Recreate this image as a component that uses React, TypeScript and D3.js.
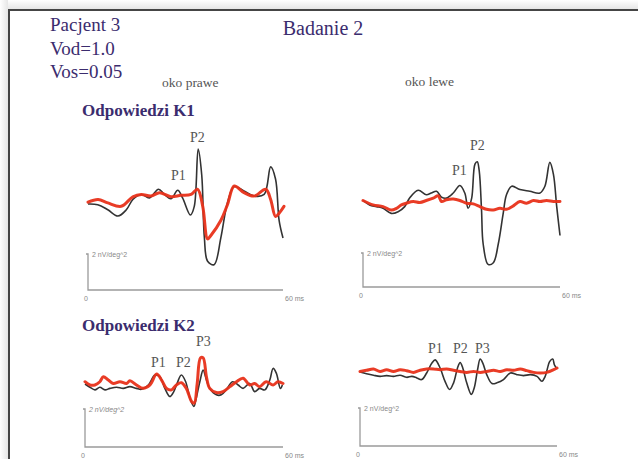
import React from "react";
import * as d3 from "d3";

// ---- data: [time ms, amplitude nV/deg^2] ----
const k1RightBlack: [number, number][] = [
  [0, 0], [3, -0.04], [6.1, -0.32], [9.2, -0.67], [11.8, -0.32], [13.8, 0.25], [16.4, 0.53], [18.9, 0.34],
  [21.7, 0.82], [23.5, 0.53], [25.5, 0.29], [27.6, 0.76], [29.1, 0.34], [31.5, -0.61], [32.7, -0.13],
  [33.9, 3.05], [35, 1.6], [35.8, -1.85], [36.8, -3.18], [38.8, -3.37], [40.9, -1.85], [42.9, 0.06],
  [45, 0.97], [48, 0.72], [51.1, 0.44], [54.2, 0.53], [56.2, 2.06], [57.7, 1.39], [58.8, -0.91], [60, -1.89],
];
const k1RightRed: [number, number][] = [
  [0, 0.1], [3.1, 0.25], [6.1, 0.06], [10.2, -0.13], [13.8, 0.4], [16.4, 0.53], [19.4, 0.44], [22, 0.63],
  [25.5, 0.4], [28.6, 0.48], [31.7, 0.53], [33.7, 0.82], [35.3, -0.13], [36.8, -1.94], [37.8, -1.75],
  [40.9, -0.9], [42.9, -0.04], [45, 1.0], [48, 0.63], [51.1, 0.44], [54.7, 0.82], [56.2, 0.25],
  [57.7, -0.7], [58.8, -0.51], [60.3, -0.13],
];
const k1LeftBlack: [number, number][] = [
  [0, 0.06], [2, -0.2], [4.1, -0.3], [6.1, -0.4], [8.6, -0.7], [10.7, -0.6], [12.7, -0.3], [14.2, 0.2],
  [16.8, 0.66], [19.3, 0.4], [20.8, 0.5], [22.4, 0.6], [23.9, 0.26], [25.4, 0.2], [27.5, 0.5], [29.5, 0.94],
  [31, 0.5], [32, -0.4], [33.1, 0.2], [34.1, 2.2], [34.8, 2.34], [35.4, 1.8], [36.1, -0.5], [36.6, -2.5],
  [38.1, -3.7], [39.7, -3.6], [41.2, -2.5], [42.7, -0.7], [43.7, 0.4], [45.3, 0.9], [47.8, 0.7],
  [50.8, 0.6], [53.9, 0.5], [55.4, 0.9], [56.9, 2.3], [58, 1.6], [59, -0.3], [60, -2.0],
];
const k1LeftRed: [number, number][] = [
  [0, 0.06], [3.05, -0.2], [6.1, -0.3], [8.6, -0.5], [10.2, -0.4], [11.7, -0.2], [13.2, -0.1], [15.3, 0],
  [17.3, -0.06], [19.3, 0.06], [21.4, 0.2], [22.9, 0.34], [23.9, 0], [25.4, 0.1], [27.5, 0.14], [29.5, 0.06],
  [31.5, -0.1], [33.6, -0.14], [35.6, -0.3], [37.6, -0.46], [39.7, -0.5], [41.7, -0.4], [43.7, -0.46],
  [45.8, -0.26], [47.8, 0], [49.8, -0.1], [51.9, 0.06], [53.9, 0], [55.9, 0.06], [58, 0], [60, 0],
];
const k2RightBlack: [number, number][] = [
  [0, 0], [1.5, -0.17], [3, -0.31], [4.5, -0.17], [6.05, -0.31], [7.56, -0.23], [9.58, -0.17], [11.6, -0.23],
  [13.6, -0.14], [15.6, -0.23], [17.1, -0.28], [19.2, -0.05], [21.2, 0.47], [22.7, 0.38], [24.2, -0.23],
  [25.7, -0.66], [26.9, -0.4], [27.9, 0.03], [29.2, 0.47], [30.5, 0.12], [31.8, -0.75], [33, -1.18],
  [33.6, -0.83], [34.8, 0.12], [35.8, 0.73], [36.8, 0.21], [37.8, -0.23], [39.8, -0.57], [41.3, -0.57],
  [42.8, -0.31], [44.7, 0.12], [46.4, -0.05], [47.9, -0.23], [49.9, 0.03], [51.4, -0.4], [52.9, -0.23],
  [54.5, -0.31], [56, 0.21], [57, 0.82], [58, 0.56], [59.2, -0.23], [59.8, -0.05],
];
const k2RightRed: [number, number][] = [
  [0, 0.12], [1.5, -0.05], [3, -0.05], [4.5, 0.12], [5.55, 0.38], [7.06, 0.21], [8.57, 0.03], [10.6, 0.12],
  [12.6, 0.03], [13.6, 0.17], [15.6, -0.05], [17.6, -0.23], [19.7, -0.05], [21.7, 0.52], [23.2, 0.21],
  [24.7, -0.23], [26.2, -0.31], [27.7, -0.05], [29.2, 0.07], [30.7, -0.23], [32.3, -0.92], [33.1, -1.01],
  [34, 0.03], [35, 1.38], [35.8, 1.38], [36.8, 0.38], [37.8, -0.23], [39.8, -0.45], [41.8, -0.4],
  [43.9, -0.14], [45.9, 0.12], [47.9, 0.3], [49.9, -0.05], [51.4, 0.03], [52.9, -0.14], [54.9, 0.12],
  [57, -0.05], [58.5, 0.12], [60, 0.03],
];
const k2LeftBlack: [number, number][] = [
  [0, 0], [2, -0.09], [4.1, -0.17], [6.1, -0.23], [8.1, -0.19], [10.2, -0.23], [12.2, -0.17], [14.2, -0.28],
  [15.8, -0.23], [17.3, -0.31], [18.8, -0.4], [20.3, -0.05], [21.9, 0.47], [22.9, 0.64], [24.4, 0.21],
  [25.9, -0.49], [27.3, -0.92], [28.5, -0.57], [29.7, 0.21], [30.5, 0.5], [31.3, 0.21], [32.5, -0.57],
  [33.9, -1.18], [34.8, -0.83], [35.8, 0.12], [36.6, 0.68], [37.4, 0.47], [38.6, -0.14], [40.2, -0.61],
  [41.7, -0.57], [43.7, -0.4], [45.8, -0.05], [47.8, -0.14], [49.8, -0.19], [51.9, -0.14], [53.9, -0.23],
  [55.4, -0.49], [56.4, -0.23], [57.8, 0.56], [58.7, 0.68], [59.2, 0.38], [59.8, 0.21],
];
const k2LeftRed: [number, number][] = [
  [0, 0.03], [2, 0.09], [4.1, 0.16], [6.1, 0.03], [8.1, 0.12], [10.2, 0.03], [12.2, 0.12], [14.2, 0.07],
  [16.3, -0.02], [18.3, 0.09], [20.3, 0.16], [22.4, 0.16], [24.4, 0.12], [26.4, 0.16], [28.5, 0.09],
  [30.5, 0.03], [32.5, -0.02], [34.6, 0.03], [36.6, -0.02], [38.6, 0.03], [40.7, 0.09], [42.7, 0.03],
  [44.7, 0.12], [46.8, 0.09], [48.8, 0.16], [50.8, 0.07], [52.9, -0.02], [54.9, -0.05], [56.9, -0.02],
  [59, 0.12], [60, 0.21],
];

const headerLines = ["Pacjent 3", "Vod=1.0", "Vos=0.05"];
const title = "Badanie 2";
const eyeLabels = ["oko prawe", "oko lewe"];
const sectionLabels = ["Odpowiedzi K1", "Odpowiedzi K2"];
const timeTicks = ["0", "60 ms"];
const scaleLabel = "2 nV/deg^2";

type Peak = { text: string; dx: number; dy: number };
type Panel = {
  black: [number, number][];
  red: [number, number][];
  x0: number; x1: number; axisY: number; barTop: number; base: number;
  peaks: Peak[];
  italic?: boolean;
};

const panels: Panel[] = [
  { black: k1RightBlack, red: k1RightRed, x0: 88, x1: 283, axisY: 290, barTop: 254, base: 204,
    peaks: [{ text: "P1", dx: 171, dy: 180 }, { text: "P2", dx: 190, dy: 142 }] },
  { black: k1LeftBlack, red: k1LeftRed, x0: 363, x1: 560, axisY: 287, barTop: 253, base: 201.5,
    peaks: [{ text: "P1", dx: 452, dy: 175 }, { text: "P2", dx: 470, dy: 150 }] },
  { black: k2RightBlack, red: k2RightRed, x0: 85, x1: 283, axisY: 447, barTop: 409, base: 384,
    peaks: [{ text: "P1", dx: 151, dy: 367 }, { text: "P2", dx: 176, dy: 367 }, { text: "P3", dx: 196, dy: 346 }], italic: true },
  { black: k2LeftBlack, red: k2LeftRed, x0: 360, x1: 557, axisY: 446, barTop: 408, base: 372,
    peaks: [{ text: "P1", dx: 428, dy: 353 }, { text: "P2", dx: 453, dy: 353 }, { text: "P3", dx: 475, dy: 353 }] },
];

const PURPLE = "#3b2c6e";
const SERIF = "'Liberation Serif', 'Times New Roman', serif";
const SANS = "'Liberation Sans', Arial, sans-serif";

function PanelView({ p }: { p: Panel }) {
  const x = d3.scaleLinear().domain([0, 60]).range([p.x0, p.x1]);
  const barLen = p.axisY - p.barTop;
  const y = d3.scaleLinear().domain([0, 2]).range([p.base, p.base - barLen]);
  const line = d3.line<[number, number]>().x(d => x(d[0])).y(d => y(d[1])).curve(d3.curveCatmullRom.alpha(0.5));
  return (
    <g>
      <path d={`M${p.x0 - 2},${p.barTop}H${p.x0}V${p.axisY}H${p.x1}`} fill="none" stroke="#9a9a9a" strokeWidth={1.3} />
      <text x={p.x0 + 4} y={p.barTop + 3} fontFamily={SANS} fontSize={7} fill="#888" fontStyle={p.italic ? "italic" : "normal"}>{scaleLabel}</text>
      <text x={p.x0 - 2} y={p.axisY + 11} fontFamily={SANS} fontSize={7} fill="#888" textAnchor="middle">{timeTicks[0]}</text>
      <text x={p.x1 + 2} y={p.axisY + 11} fontFamily={SANS} fontSize={7} fill="#888">{timeTicks[1]}</text>
      <path d={line(p.black) || ""} fill="none" stroke="#333" strokeWidth={1.6} strokeLinejoin="round" />
      <path d={line(p.red) || ""} fill="none" stroke="#e8311a" strokeWidth={3} strokeLinejoin="round" strokeLinecap="round" opacity={0.95} />
      {p.peaks.map((k, i) => (
        <text key={i} x={k.dx} y={k.dy} fontFamily={SERIF} fontSize={14} fill="#555">{k.text}</text>
      ))}
    </g>
  );
}

export default function App() {
  return (
    <svg width={638} height={459} style={{ position: "absolute", left: 0, top: 0 }}>
      <defs>
        <linearGradient id="topg" x1="0" y1="0" x2="0" y2="1">
          <stop offset="0" stopColor="#ffffff" />
          <stop offset="1" stopColor="#e6e6e6" />
        </linearGradient>
        <linearGradient id="leftg" x1="0" y1="0" x2="1" y2="0">
          <stop offset="0" stopColor="#ffffff" />
          <stop offset="1" stopColor="#e6e6e6" />
        </linearGradient>
      </defs>
      <rect x={0} y={0} width={638} height={459} fill="#ffffff" />
      <rect x={0} y={0} width={638} height={9} fill="url(#topg)" />
      <rect x={0} y={0} width={8} height={459} fill="url(#leftg)" />
      <rect x={9} y={10} width={700} height={500} fill="#ffffff" stroke="#454545" strokeWidth={2} />

      {headerLines.map((t, i) => (
        <text key={t} x={50} y={31 + i * 23.5} fontFamily={SERIF} fontSize={19} fill={PURPLE}>{t}</text>
      ))}
      <text x={323} y={35} fontFamily={SERIF} fontSize={20} fill={PURPLE} textAnchor="middle">{title}</text>
      <text x={162} y={87} fontFamily={SERIF} fontSize={13.5} fill="#555">{eyeLabels[0]}</text>
      <text x={405} y={86} fontFamily={SERIF} fontSize={13.5} fill="#555">{eyeLabels[1]}</text>
      <text x={82} y={116} fontFamily={SERIF} fontSize={17} fontWeight="bold" fill={PURPLE}>{sectionLabels[0]}</text>
      <text x={82} y={331} fontFamily={SERIF} fontSize={17} fontWeight="bold" fill={PURPLE}>{sectionLabels[1]}</text>

      {panels.map((p, i) => <PanelView key={i} p={p} />)}
    </svg>
  );
}
